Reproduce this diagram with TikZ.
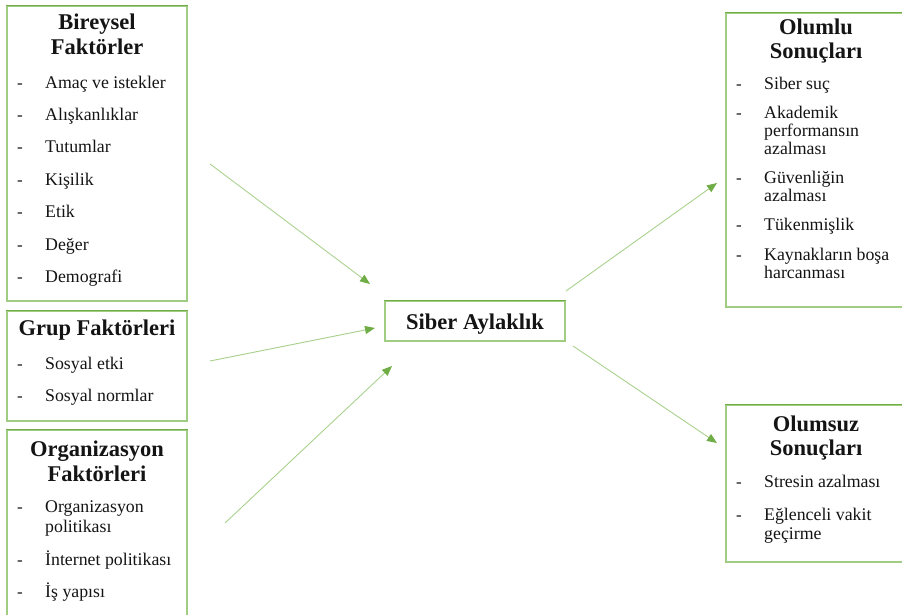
\documentclass[tikz,border=0pt]{standalone}
\usepackage{fontspec}
\setmainfont{Liberation Serif}
\usetikzlibrary{arrows.meta}
\definecolor{boxlight}{RGB}{160,205,130}
\definecolor{boxdark}{RGB}{112,173,71}
\definecolor{arrowline}{RGB}{169,209,142}
\definecolor{arrowhead}{RGB}{112,173,71}
\definecolor{txt}{RGB}{20,20,20}
\begin{document}
\begin{tikzpicture}[x=1pt,y=-1pt,
  frame/.style={draw=boxlight,line width=1.3pt,inner sep=0pt,minimum width=180pt},
  topline/.style={draw=boxdark,line width=1.3pt},
  title/.style={inner sep=0pt,anchor=base,text=txt,font=\fontsize{22.5}{26}\selectfont\bfseries},
  item/.style={inner sep=0pt,anchor=base west,text=txt,font=\fontsize{17.8}{20}\selectfont},
  dashmark/.style={inner sep=0pt,anchor=base west,text=txt,font=\fontsize{17}{20}\selectfont},
  link/.style={draw=arrowline,line width=0.9pt,-{Triangle[length=10pt,width=8pt,color=arrowhead,fill=arrowhead]}}
]
\useasboundingbox (0,0) rectangle (902,615);
% boxes
\node[frame,minimum height=295pt] (bireysel) at (97,153.5) {};
\node[frame,minimum height=110pt] (grup) at (97,366) {};
\node[frame,minimum height=190pt] (org) at (97,525) {};
\node[frame,minimum height=40pt] (siber) at (475,321) {};
\node[frame,minimum height=294pt] (olumlu) at (816,160) {};
\node[frame,minimum height=157pt] (olumsuz) at (816,483.5) {};
\foreach \b in {bireysel,grup,org,siber,olumlu,olumsuz}{
  \draw[topline] (\b.north west) -- (\b.north east);
}
% titles
\node[title] (t1a) at (97,30) {Bireysel};
\node[title] (t1b) at (97,55) {Faktörler};
\node[title] (t2) at (97,335) {Grup Faktörleri};
\node[title] (t3a) at (97,456) {Organizasyon};
\node[title] (t3b) at (97,481) {Faktörleri};
\node[title] (ts) at (475,329) {Siber Aylaklık};
\node[title] (t4a) at (816,35) {Olumlu};
\node[title] (t4b) at (816,59) {Sonuçları};
\node[title] (t5a) at (816,431) {Olumsuz};
\node[title] (t5b) at (816,455) {Sonuçları};
% Bireysel items
\foreach \t/\y [count=\i] in {Amaç ve istekler/88.5,Alışkanlıklar/120.8,Tutumlar/153,Kişilik/185.5,Etik/217.8,Değer/250,Demografi/282.5}{
  \node[dashmark] (bd\i) at (17,\y) {-};
  \node[item] (bi\i) at (45,\y) {\t};
}
% Grup items
\foreach \t/\y [count=\i] in {Sosyal etki/369,Sosyal normlar/401}{
  \node[dashmark] (gd\i) at (17,\y) {-};
  \node[item] (gi\i) at (45,\y) {\t};
}
% Organizasyon items
\node[dashmark] (od1) at (17,512.5) {-};
\node[item] (oi1) at (45,512.5) {Organizasyon};
\node[item] (oi1b) at (45,532) {politikası};
\node[dashmark] (od2) at (17,565.5) {-};
\node[item] (oi2) at (45,565.5) {İnternet politikası};
\node[dashmark] (od3) at (17,597.5) {-};
\node[item] (oi3) at (45,597.5) {İş yapısı};
% Olumlu items
\node[dashmark] (pd1) at (736,89.5) {-};
\node[item] (pi1) at (764,89.5) {Siber suç};
\node[dashmark] (pd2) at (736,118.5) {-};
\node[item] (pi2) at (764,118.5) {Akademik};
\node[item] (pi2b) at (764,136.5) {performansın};
\node[item] (pi2c) at (764,154.5) {azalması};
\node[dashmark] (pd3) at (736,183.5) {-};
\node[item] (pi3) at (764,183.5) {Güvenliğin};
\node[item] (pi3b) at (764,201.5) {azalması};
\node[dashmark] (pd4) at (736,230.5) {-};
\node[item] (pi4) at (764,230.5) {Tükenmişlik};
\node[dashmark] (pd5) at (736,260.5) {-};
\node[item] (pi5) at (764,260.5) {Kaynakların boşa};
\node[item] (pi5b) at (764,278.5) {harcanması};
% Olumsuz items
\node[dashmark] (nd1) at (736,487.5) {-};
\node[item] (ni1) at (764,487.5) {Stresin azalması};
\node[dashmark] (nd2) at (736,520.5) {-};
\node[item] (ni2) at (764,520.5) {Eğlenceli vakit};
\node[item] (ni2b) at (764,539.5) {geçirme};
% arrows
\coordinate (a1s) at (210,164);  \coordinate (a1e) at (370,284);
\coordinate (a2s) at (210,361);  \coordinate (a2e) at (375,328);
\coordinate (a3s) at (225,523);  \coordinate (a3e) at (392,366);
\coordinate (a4s) at (566,291);  \coordinate (a4e) at (717,183);
\coordinate (a5s) at (573,346);  \coordinate (a5e) at (717,443);
\foreach \s/\e in {a1s/a1e,a2s/a2e,a3s/a3e,a4s/a4e,a5s/a5e}{
  \draw[link] (\s) -- (\e);
}
\end{tikzpicture}
\end{document}
